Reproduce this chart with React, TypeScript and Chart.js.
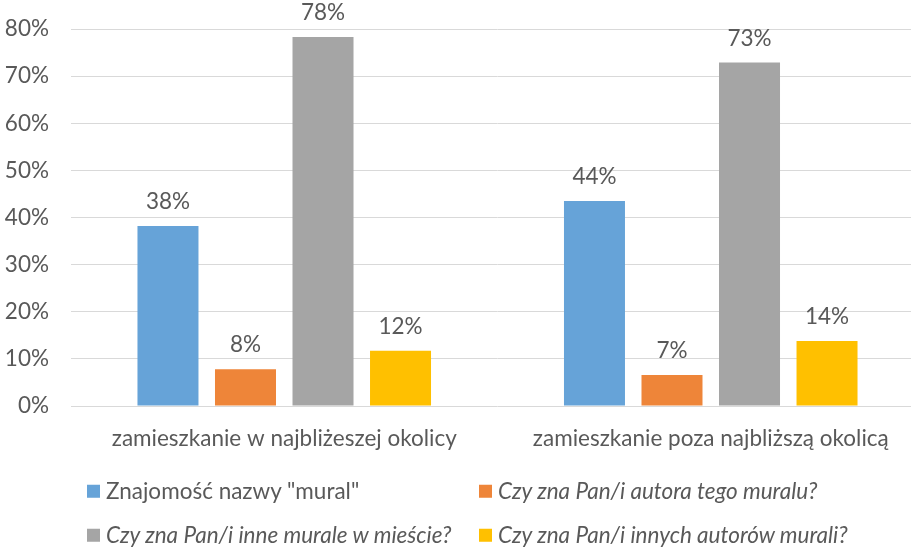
import React, { useEffect, useRef } from "react";
import { Chart, registerables } from "chart.js";

Chart.register(...registerables);

// ---- data ----
const categories = [
  "zamieszkanie w najbliżeszej okolicy",
  "zamieszkanie poza najbliższą okolicą",
];
const seriesNames = [
  'Znajomość nazwy "mural"',
  "Czy zna Pan/i autora tego muralu?",
  "Czy zna Pan/i inne murale w mieście?",
  "Czy zna Pan/i innych autorów murali?",
];
const knowsTermValues = [38.2, 43.5];
const knowsAuthorValues = [7.8, 6.6];
const knowsOtherMuralsValues = [78.3, 72.9];
const knowsOtherAuthorsValues = [11.7, 13.8];
const yTickValues = [0, 10, 20, 30, 40, 50, 60, 70, 80];

// ---- styles ----
const seriesValues = [knowsTermValues, knowsAuthorValues, knowsOtherMuralsValues, knowsOtherAuthorsValues];
const seriesColors = ["#66A3D8", "#EE8539", "#A5A5A5", "#FFC000"];
const seriesItalic = [false, true, true, true];
const FONT = "Lato, 'Open Sans', sans-serif";
const FONT_SIZE = 22.5;
const TEXT = "#595959";

const dataLabelPlugin = {
  id: "dataLabels",
  afterDatasetsDraw(chart: any) {
    const ctx = chart.ctx;
    ctx.save();
    ctx.font = `${FONT_SIZE}px ${FONT}`;
    ctx.fillStyle = TEXT;
    ctx.textAlign = "center";
    ctx.textBaseline = "middle";
    chart.data.datasets.forEach((ds: any, i: number) => {
      const meta = chart.getDatasetMeta(i);
      meta.data.forEach((bar: any, j: number) => {
        const v = ds.data[j];
        ctx.fillText(Math.round(v) + "%", bar.x, bar.y - 24);
      });
    });
    ctx.restore();
  },
};

export default function App() {
  const ref = useRef<HTMLCanvasElement | null>(null);

  useEffect(() => {
    if (!ref.current) return;
    const chart = new Chart(ref.current, {
      type: "bar",
      data: {
        labels: categories,
        datasets: seriesNames.map((name, i) => ({
          label: name,
          data: seriesValues[i],
          backgroundColor: seriesColors[i],
          borderWidth: 0,
          categoryPercentage: 0.727,
          barPercentage: 0.787,
        })),
      },
      options: {
        responsive: false,
        animation: false,
        devicePixelRatio: 1,
        layout: { padding: { top: 29, left: 0, right: 0, bottom: 0 } },
        plugins: {
          legend: { display: false },
          tooltip: { enabled: false },
        },
        scales: {
          x: {
            grid: { display: false, drawTicks: false },
            border: { display: false },
            ticks: {
              color: TEXT,
              font: { family: FONT, size: FONT_SIZE },
              padding: 19,
              maxRotation: 0,
              autoSkip: false,
            },
            afterFit: (scale: any) => {
              scale.height = 143;
            },
          },
          y: {
            min: 0,
            max: 80,
            afterBuildTicks: (scale: any) => {
              scale.ticks = yTickValues.map((v) => ({ value: v }));
            },
            grid: { color: "#D9D9D9", lineWidth: 1, drawTicks: false },
            border: { display: false },
            ticks: {
              color: TEXT,
              font: { family: FONT, size: FONT_SIZE },
              padding: 22,
              callback: (v: any) => v + "%",
            },
            afterFit: (scale: any) => {
              scale.width = 71;
              scale.paddingTop = 0;
              scale.paddingBottom = 0;
            },
          },
        },
      },
      plugins: [dataLabelPlugin],
    });
    return () => chart.destroy();
  }, []);

  const legendPos = [
    { left: 87, top: 491 },
    { left: 479, top: 491 },
    { left: 87, top: 535 },
    { left: 479, top: 535 },
  ];

  return (
    <div
      style={{
        position: "fixed",
        left: 0,
        top: 0,
        width: 911,
        height: 549,
        overflow: "hidden",
        background: "#fff",
      }}
    >
      <canvas ref={ref} width={924} height={549} style={{ display: "block" }} />
      {seriesNames.map((name, i) => (
        <div
          key={name}
          style={{
            position: "absolute",
            left: legendPos[i].left,
            top: legendPos[i].top,
            transform: "translateY(-50%)",
            display: "flex",
            alignItems: "center",
            whiteSpace: "nowrap",
            fontFamily: FONT,
            fontSize: FONT_SIZE,
            color: TEXT,
            fontStyle: seriesItalic[i] ? "italic" : "normal",
            lineHeight: 1,
          }}
        >
          <span
            style={{
              display: "inline-block",
              width: 13,
              height: 13,
              background: seriesColors[i],
              marginRight: 6,
            }}
          />
          <span>{name}</span>
        </div>
      ))}
    </div>
  );
}
